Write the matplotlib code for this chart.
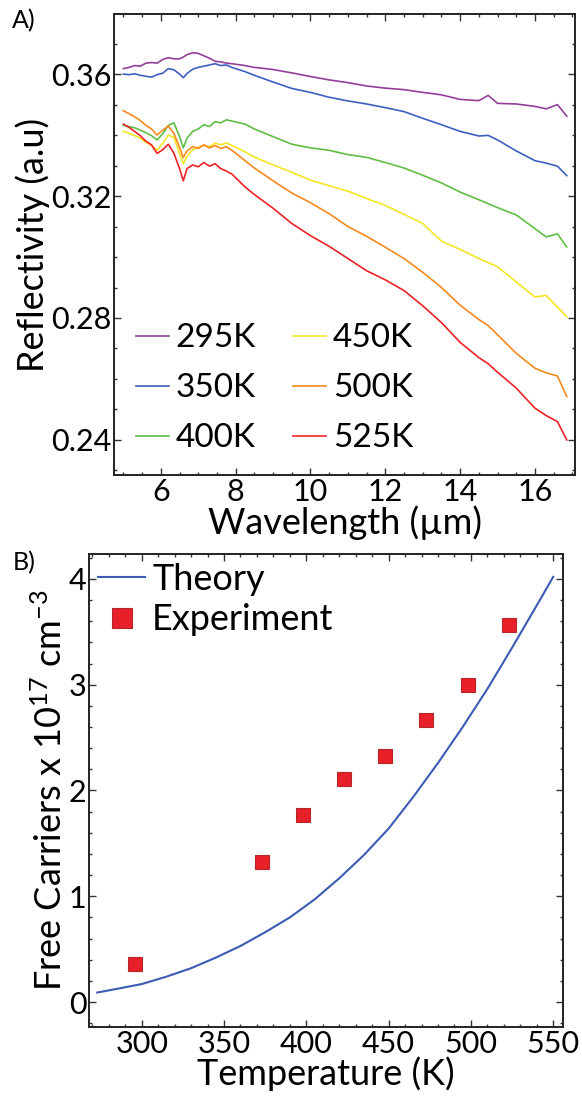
"""
    Reflectivity spectra vs temperature and free carrier density.
"""
import numpy as np
import matplotlib
matplotlib.use('Agg')
import matplotlib.pyplot as plt
from matplotlib.ticker import MultipleLocator

plt.rcParams['font.family'] = ['Lato', 'DejaVu Sans']
plt.rcParams['mathtext.fontset'] = 'custom'
plt.rcParams['mathtext.rm'] = 'Lato'
plt.rcParams['mathtext.default'] = 'regular'

# panel A: wavelength grid (um) and reflectivity per temperature
wavelength = [5.0, 5.15, 5.3, 5.45, 5.6, 5.75, 5.9, 6.05, 6.2, 6.35, 6.5, 6.6,
              6.7, 6.85, 7.0, 7.15, 7.3, 7.45, 7.6, 7.75, 7.9, 8.25, 8.5, 9.0,
              9.5, 10.0, 10.5, 11.0, 11.5, 12.0, 12.5, 13.0, 13.5, 14.0, 14.5,
              14.75, 15.0, 15.5, 16.0, 16.3, 16.6, 16.85]

r_295 = [0.3618, 0.3622, 0.3628, 0.3626, 0.3636, 0.3638, 0.3636, 0.3648, 0.3654,
         0.3650, 0.3650, 0.3656, 0.3664, 0.3670, 0.3668, 0.3660, 0.3652, 0.3642,
         0.3640, 0.3636, 0.3634, 0.3628, 0.3622, 0.3615, 0.3604, 0.3592, 0.3581,
         0.3572, 0.3561, 0.3554, 0.3549, 0.3540, 0.3532, 0.3517, 0.3513, 0.3530,
         0.3504, 0.3502, 0.3494, 0.3486, 0.3500, 0.3462]
r_350 = [0.3600, 0.3598, 0.3601, 0.3596, 0.3593, 0.3590, 0.3598, 0.3603, 0.3618,
         0.3614, 0.3600, 0.3588, 0.3602, 0.3616, 0.3622, 0.3626, 0.3630, 0.3634,
         0.3628, 0.3630, 0.3622, 0.3608, 0.3596, 0.3574, 0.3553, 0.3540, 0.3524,
         0.3512, 0.3502, 0.3490, 0.3477, 0.3455, 0.3434, 0.3412, 0.3397, 0.3399,
         0.3384, 0.3348, 0.3316, 0.3308, 0.3298, 0.3267]
r_400 = [0.3432, 0.3428, 0.3424, 0.3416, 0.3408, 0.3398, 0.3384, 0.3404, 0.3432,
         0.3440, 0.3395, 0.3358, 0.3390, 0.3412, 0.3420, 0.3434, 0.3428, 0.3444,
         0.3440, 0.3450, 0.3446, 0.3436, 0.3420, 0.3395, 0.3370, 0.3358, 0.3350,
         0.3336, 0.3327, 0.3310, 0.3292, 0.3268, 0.3243, 0.3213, 0.3188, 0.3175,
         0.3162, 0.3138, 0.3093, 0.3066, 0.3076, 0.3033]
r_450 = [0.3412, 0.3406, 0.3398, 0.3390, 0.3376, 0.3366, 0.3350, 0.3372, 0.3400,
         0.3392, 0.3340, 0.3306, 0.3330, 0.3352, 0.3360, 0.3366, 0.3362, 0.3374,
         0.3368, 0.3374, 0.3366, 0.3345, 0.3328, 0.3302, 0.3278, 0.3252, 0.3234,
         0.3216, 0.3192, 0.3169, 0.3140, 0.3110, 0.3052, 0.3025, 0.2995, 0.2982,
         0.2968, 0.2918, 0.2869, 0.2874, 0.2836, 0.2804]
r_500 = [0.3480, 0.3470, 0.3460, 0.3448, 0.3432, 0.3420, 0.3400, 0.3416, 0.3430,
         0.3405, 0.3360, 0.3326, 0.3348, 0.3362, 0.3356, 0.3368, 0.3358, 0.3366,
         0.3356, 0.3362, 0.3350, 0.3316, 0.3292, 0.3250, 0.3210, 0.3178, 0.3142,
         0.3100, 0.3068, 0.3032, 0.2995, 0.2950, 0.2900, 0.2842, 0.2795, 0.2775,
         0.2745, 0.2684, 0.2635, 0.2620, 0.2610, 0.2542]
r_525 = [0.3436, 0.3425, 0.3412, 0.3398, 0.3380, 0.3368, 0.3340, 0.3352, 0.3370,
         0.3340, 0.3290, 0.3250, 0.3290, 0.3302, 0.3296, 0.3310, 0.3298, 0.3306,
         0.3290, 0.3282, 0.3272, 0.3230, 0.3205, 0.3160, 0.3110, 0.3070, 0.3035,
         0.2995, 0.2955, 0.2925, 0.2890, 0.2840, 0.2785, 0.2720, 0.2670, 0.2650,
         0.2622, 0.2570, 0.2504, 0.2480, 0.2460, 0.2400]

temp_labels = ['295K', '350K', '400K', '450K', '500K', '525K']
colors = ['#913f98', '#3d5fbf', '#5fbf45', '#f2e627', '#f7891f', '#ee2226']

# panel B: free carriers (1e17 cm^-3)
theory_T = [273, 285, 300, 315, 330, 345, 360, 375, 390, 405, 420, 435, 450,
            465, 480, 495, 510, 525, 540, 550]
theory_n = [0.09, 0.125, 0.17, 0.24, 0.32, 0.42, 0.53, 0.66, 0.80, 0.97, 1.17,
            1.39, 1.64, 1.94, 2.26, 2.60, 2.96, 3.35, 3.75, 4.02]
exp_T = [296, 373, 398, 423, 448, 473, 498, 523]
exp_n = [0.36, 1.32, 1.77, 2.11, 2.33, 2.67, 3.00, 3.56]


def style_axes(ax):
    for sp in ax.spines.values():
        sp.set_linewidth(1.4)
        sp.set_color('#222222')
    ax.tick_params(which='both', direction='in', top=True, right=True,
                   width=1.0, color='#333333')
    ax.tick_params(which='major', length=5, labelsize=22, pad=2)
    ax.tick_params(which='minor', length=2.5)


fig = plt.figure(figsize=(5.82, 10.97), dpi=100)

ax1 = fig.add_axes([0.196, 0.567, 0.792, 0.4202])
spectra = [r_295, r_350, r_400, r_450, r_500, r_525]
for vals, lab, col in zip(spectra, temp_labels, colors):
    ax1.plot(wavelength, vals, color=col, lw=1.2, label=lab)
ax1.set_xlim(4.75, 17.07)
ax1.set_ylim(0.2285, 0.3797)
ax1.set_xticks([6, 8, 10, 12, 14, 16])
ax1.set_yticks([0.24, 0.28, 0.32, 0.36])
ax1.xaxis.set_minor_locator(MultipleLocator(0.5))
ax1.yaxis.set_minor_locator(MultipleLocator(0.01))
style_axes(ax1)
ax1.set_xlabel('Wavelength (µm)', fontsize=26, labelpad=0)
ax1.set_ylabel('Reflectivity (a.u)', fontsize=26)
ax1.yaxis.set_label_coords(-0.14, 0.5)
ax1.legend(ncol=2, loc='lower left', frameon=False, fontsize=24,
           handlelength=1.0, handletextpad=0.2, columnspacing=1.1,
           labelspacing=0.6, borderaxespad=0.45, borderpad=0.2)
fig.text(0.02, 0.981, 'A)', fontsize=18, va='center')

ax2 = fig.add_axes([0.153, 0.0638, 0.8145, 0.4312])
ax2.plot(theory_T, theory_n, color='#3b5bb5', lw=1.5, label='Theory')
ax2.plot(exp_T, exp_n, ls='none', marker='s', ms=10, mfc='#e8202a',
         mec='#b5262b', mew=0.8, label='Experiment')
ax2.set_xlim(268, 556)
ax2.set_ylim(-0.236, 4.236)
ax2.set_xticks([300, 350, 400, 450, 500, 550])
ax2.set_yticks([0, 1, 2, 3, 4])
ax2.xaxis.set_minor_locator(MultipleLocator(10))
ax2.yaxis.set_minor_locator(MultipleLocator(0.2))
style_axes(ax2)
ax2.set_xlabel('Temperature (K)', fontsize=26, labelpad=-1)
ax2.set_ylabel('Free Carriers x 10$^{17}$ cm$^{-3}$', fontsize=26)
ax2.yaxis.set_label_coords(-0.045, 0.5)
ax2.legend(loc='upper left', frameon=False, fontsize=26, handlelength=1.3,
           handletextpad=0.2, labelspacing=0.2, borderaxespad=0.15,
           borderpad=0.1, markerscale=1.4)
fig.text(0.022, 0.487, 'B)', fontsize=18, va='center')

fig.savefig('out.png', dpi=100)
